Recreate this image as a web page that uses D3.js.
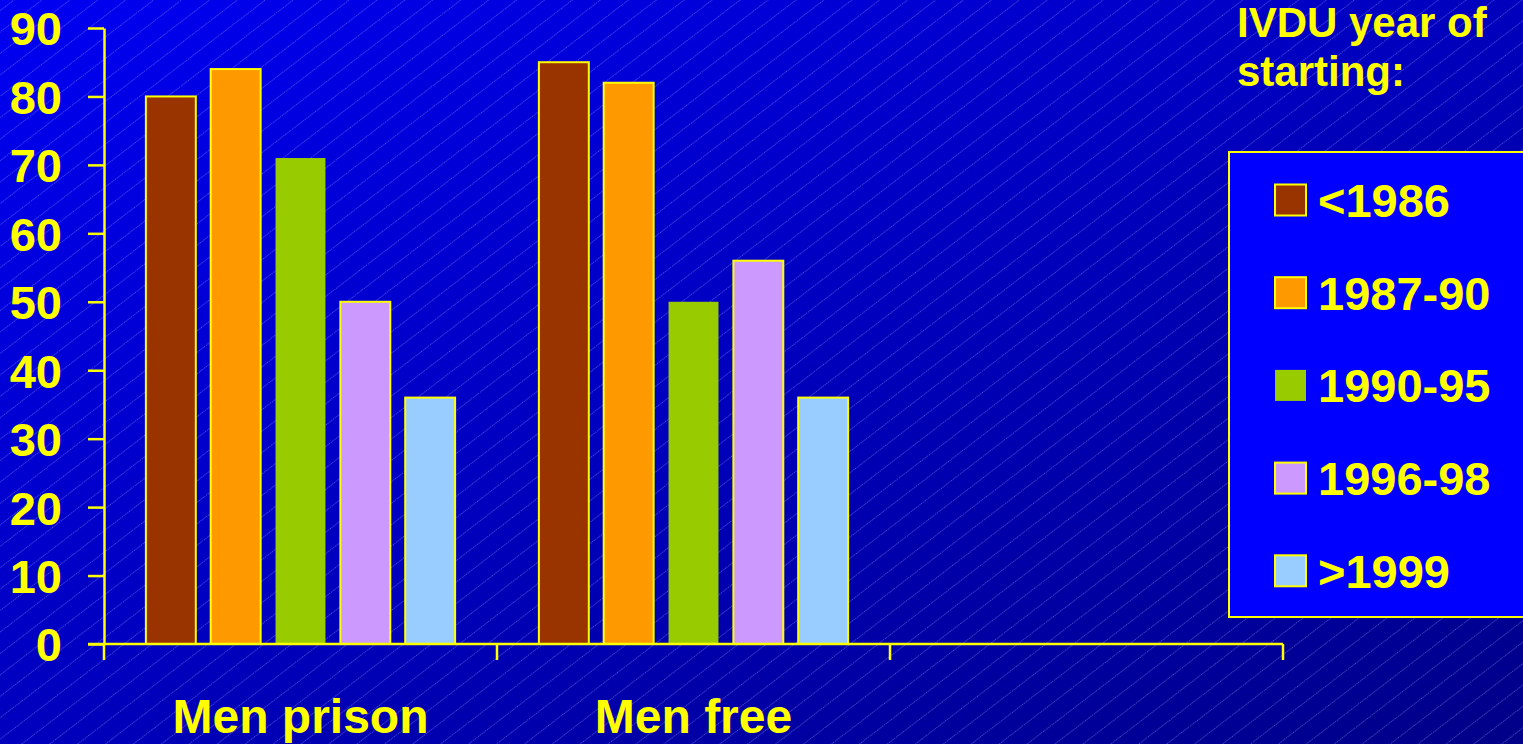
<!DOCTYPE html>
<html>
<head>
<meta charset="utf-8">
<script src="https://cdn.jsdelivr.net/npm/d3@7"></script>
<style>
  html, body { margin: 0; padding: 0; background: #0000b0; overflow: hidden; }
  svg { display: block; }
  text { font-family: "Liberation Sans", Arial, Helvetica, sans-serif; font-weight: bold; fill: #ffff00; }
</style>
</head>
<body>
<svg id="chart" width="1523" height="744"></svg>
<script>
// Groups along the x axis (third slot is left empty)
const groups = ["Men prison", "Men free", ""];
// Year of starting injecting drug use
const series = ["<1986", "1987-90", "1990-95", "1996-98", ">1999"];
const seriesColors = ["#993300", "#ff9900", "#99cc00", "#cc99ff", "#99ccff"];
// Percentages per group, one entry per series
const menPrison = [80, 84, 71, 50, 36];
const menFree = [85, 82, 50, 56, 36];
const yTicks = [0, 10, 20, 30, 40, 50, 60, 70, 80, 90];
const legendTitle = ["IVDU year of", "starting:"];

const rows = [
  { group: "Men prison", values: menPrison },
  { group: "Men free", values: menFree }
];

const W = 1523, H = 744;
const svg = d3.select("#chart");
const defs = svg.append("defs");

// Diagonal blue backdrop
const grad = defs.append("linearGradient")
  .attr("id", "bg").attr("x1", 0).attr("y1", 0).attr("x2", 1).attr("y2", 1);
grad.append("stop").attr("offset", "0%").attr("stop-color", "#0000f2");
grad.append("stop").attr("offset", "100%").attr("stop-color", "#000088");

// Faint dotted hatching over the backdrop
const pat = defs.append("pattern")
  .attr("id", "hatch").attr("patternUnits", "userSpaceOnUse")
  .attr("width", 40).attr("height", 17)
  .attr("patternTransform", "rotate(-37.5)");
pat.append("line")
  .attr("x1", 0).attr("y1", 8.5).attr("x2", 40).attr("y2", 8.5)
  .attr("stroke", "rgba(170,170,255,0.5)")
  .attr("stroke-width", 0.9)
  .attr("stroke-dasharray", "1.2,1");

svg.append("rect").attr("width", W).attr("height", H).attr("fill", "url(#bg)");
svg.append("rect").attr("width", W).attr("height", H).attr("fill", "url(#hatch)");

// Scales
const x0 = d3.scaleBand().domain(groups).range([104, 1283]).padding(0);
const x1 = d3.scaleBand().domain(series).range([0, x0.bandwidth()])
  .paddingInner(0.23).paddingOuter(0.646);
const y = d3.scaleLinear().domain([0, 90]).range([644, 28]);
const color = d3.scaleOrdinal().domain(series).range(seriesColors);

// Bars
const g = svg.append("g");
rows.forEach(r => {
  g.selectAll(null)
    .data(series.map((s, i) => ({ s, v: r.values[i] })))
    .join("rect")
    .attr("x", d => x0(r.group) + x1(d.s))
    .attr("y", d => y(d.v))
    .attr("width", x1.bandwidth())
    .attr("height", d => y(0) - y(d.v))
    .attr("fill", d => color(d.s))
    .attr("stroke", d => d.s === "1990-95" ? "none" : "#ffff00")
    .attr("stroke-width", 2);
});

// Y axis
const yAxis = svg.append("g")
  .attr("transform", "translate(104,0)")
  .call(d3.axisLeft(y).tickValues(yTicks).tickSize(16).tickPadding(26).tickSizeOuter(0));
yAxis.select(".domain").attr("stroke", "#ffff00").attr("stroke-width", 2.5);
yAxis.selectAll(".tick line").attr("stroke", "#ffff00").attr("stroke-width", 2.5);
yAxis.selectAll(".tick text")
  .attr("fill", "#ffff00").attr("font-size", 47)
  .attr("font-family", "Liberation Sans, Arial, sans-serif").attr("font-weight", "bold")
  .attr("dy", "0.36em");

// X axis: baseline with ticks at slot boundaries
const xg = svg.append("g");
xg.append("line")
  .attr("x1", 88).attr("x2", x0.range()[1])
  .attr("y1", y(0)).attr("y2", y(0))
  .attr("stroke", "#ffff00").attr("stroke-width", 2.5);
const bounds = groups.map(d => x0(d)).concat([x0.range()[1]]);
xg.selectAll(null).data(bounds).join("line")
  .attr("x1", d => d).attr("x2", d => d)
  .attr("y1", y(0)).attr("y2", y(0) + 16)
  .attr("stroke", "#ffff00").attr("stroke-width", 2.5);
xg.selectAll(null).data(groups.filter(d => d)).join("text")
  .attr("x", d => x0(d) + x0.bandwidth() / 2)
  .attr("y", 733)
  .attr("text-anchor", "middle")
  .attr("font-size", 48)
  .text(d => d);

// Legend title
svg.append("g").selectAll(null).data(legendTitle).join("text")
  .attr("x", 1237).attr("y", (d, i) => 37 + i * 49)
  .attr("font-size", 42)
  .text(d => d);

// Legend box
const lg = svg.append("g");
lg.append("rect")
  .attr("x", 1229).attr("y", 152).attr("width", 320).attr("height", 465)
  .attr("fill", "#0000ff").attr("stroke", "#ffff00").attr("stroke-width", 2);
const item = lg.selectAll(null).data(series).join("g")
  .attr("transform", (d, i) => `translate(0,${200 + i * 92.7})`);
item.append("rect")
  .attr("x", 1275).attr("y", -15.5).attr("width", 31).attr("height", 31)
  .attr("fill", d => color(d))
  .attr("stroke", d => d === "1990-95" ? "none" : "#ffff00")
  .attr("stroke-width", 2);
item.append("text")
  .attr("x", 1318).attr("y", 17)
  .attr("font-size", 47)
  .text(d => d);
</script>
</body>
</html>
